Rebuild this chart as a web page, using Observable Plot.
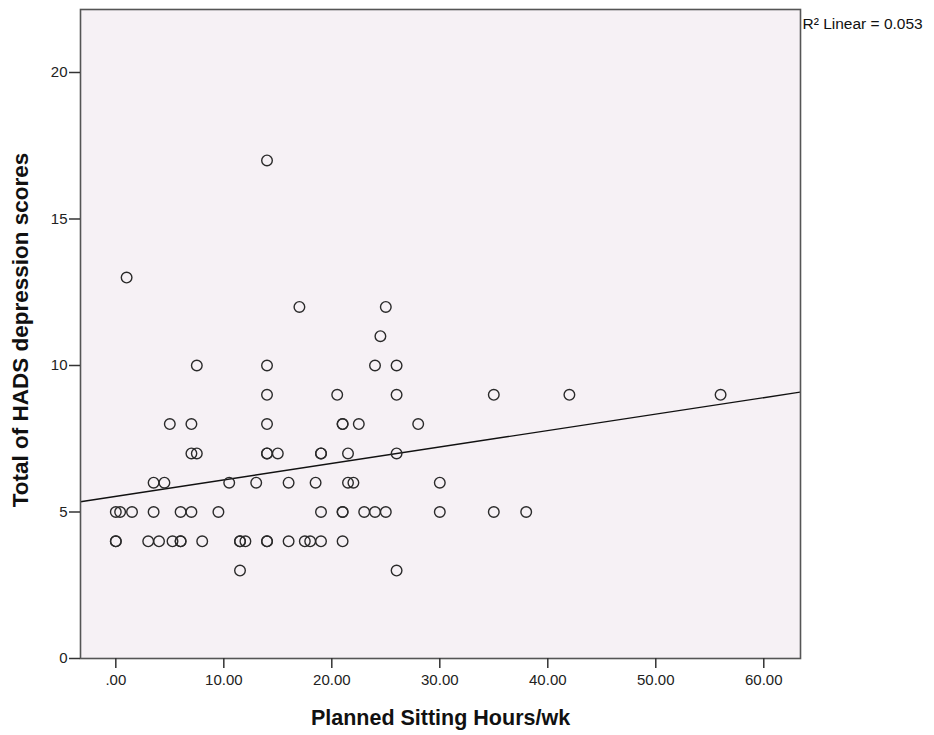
<!DOCTYPE html>
<html><head><meta charset="utf-8">
<script src="https://cdn.jsdelivr.net/npm/d3@7"></script>
<script src="https://cdn.jsdelivr.net/npm/@observablehq/plot@0.6"></script>
<style>
body{margin:0;background:#fff;}
#chart svg{display:block;}
</style></head><body><div id="chart"></div>
<script>
// Planned sitting hours per week (x) and HADS depression score (y), one entry per respondent
const sittingHours = [
  11.5, 26,
  0, 0, 3, 4, 5.25, 6, 6, 8, 11.5, 11.5, 12, 14, 14, 16, 17.5, 18, 19, 21,
  0, 0.4, 1.5, 3.5, 6, 7, 9.5, 19, 21, 21, 23, 24, 25, 30, 35, 38,
  3.5, 4.5, 10.5, 13, 16, 18.5, 21.5, 22, 30,
  7, 7.5, 14, 14, 15, 19, 19, 21.5, 26,
  5, 7, 14, 21, 21, 22.5, 28,
  14, 20.5, 26, 35, 42, 56,
  7.5, 14, 24, 26,
  24.5,
  17, 25,
  1,
  14
];
const hadsScores = [
  3, 3,
  4, 4, 4, 4, 4, 4, 4, 4, 4, 4, 4, 4, 4, 4, 4, 4, 4, 4,
  5, 5, 5, 5, 5, 5, 5, 5, 5, 5, 5, 5, 5, 5, 5, 5,
  6, 6, 6, 6, 6, 6, 6, 6, 6,
  7, 7, 7, 7, 7, 7, 7, 7, 7,
  8, 8, 8, 8, 8, 8, 8,
  9, 9, 9, 9, 9, 9,
  10, 10, 10, 10,
  11,
  12, 12,
  13,
  17
];
const xTicks = [0, 10, 20, 30, 40, 50, 60];
const yTicks = [0, 5, 10, 15, 20];
const xDomain = [-3.27, 63.4];
const yDomain = [0, 22.15];
const fitLabel = "R² Linear = 0.053";
const xTitle = "Planned Sitting Hours/wk";
const yTitle = "Total of HADS depression scores";

const points = sittingHours.map((h, i) => ({hours: h, score: hadsScores[i]}));

// least-squares fit from the data, drawn across the whole x domain
const mx = d3.mean(points, d => d.hours), my = d3.mean(points, d => d.score);
const slope = d3.sum(points, d => (d.hours - mx) * (d.score - my)) / d3.sum(points, d => (d.hours - mx) ** 2);
const intercept = my - slope * mx;
const fitLine = xDomain.map(x => ({hours: x, score: intercept + slope * x}));

const font = "'Liberation Sans', Arial, sans-serif";

const chart = Plot.plot({
  width: 934,
  height: 735,
  marginLeft: 80,
  marginRight: 134,
  marginTop: 9,
  marginBottom: 77,
  style: {fontFamily: font, background: "#fff", color: "#222"},
  x: {domain: xDomain, ticks: xTicks},
  y: {domain: yDomain, ticks: yTicks},
  marks: [
    Plot.frame({fill: "#F6F1F5", stroke: null}),
    Plot.line(fitLine, {x: "hours", y: "score", stroke: "#111", strokeWidth: 1.4, clip: true}),
    Plot.dot(points, {x: "hours", y: "score", r: 5.3, stroke: "#2a2a2a", strokeWidth: 1.4, fill: "none"}),
    Plot.frame({stroke: "#555", strokeWidth: 1.6}),
    Plot.axisX({ticks: xTicks, tickSize: 10, tickPadding: 6, fontSize: 15, label: null,
      tickFormat: v => v === 0 ? ".00" : v.toFixed(2), strokeWidth: 1.5, stroke: "#333"}),
    Plot.axisY({ticks: yTicks, tickSize: 11, tickPadding: 2, fontSize: 15, label: null, strokeWidth: 1.5, stroke: "#333"}),
    Plot.text([xTitle], {frameAnchor: "bottom", dy: 66, fontSize: 21.5, fontWeight: "bold", fill: "#111"}),
    Plot.text([yTitle], {frameAnchor: "left", textAnchor: "middle", dx: -60, dy: -4, rotate: -90, fontSize: 22.5, fontWeight: "bold", fill: "#111"}),
    Plot.text([fitLabel], {frameAnchor: "top-right", textAnchor: "start", dx: 2, dy: 8, fontSize: 15.5, fill: "#111"})
  ]
});
document.getElementById("chart").append(chart);
</script>
</body></html>
